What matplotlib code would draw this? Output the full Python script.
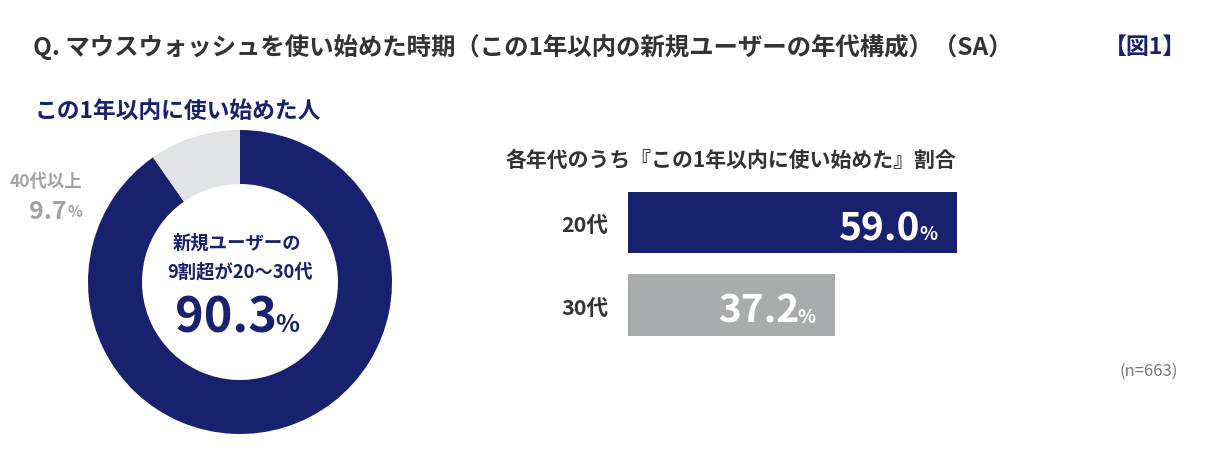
import matplotlib.pyplot as plt

plt.rcParams['font.family'] = ['Noto Sans CJK JP', 'DejaVu Sans']

W, H = 1218, 460
NAVY = '#18216d'
LIGHT = '#e2e3e6'
GRAY_BAR = '#a9abae'
DARK = '#333333'

# donut: share of new users by age group
donut_labels = ['20~30代', '40代以上']
donut_values = [90.3, 9.7]

# bars: share who started within the last year, per age group
bar_labels = ['20代', '30代']
bar_values = [59.0, 37.2]
bar_colors = [NAVY, GRAY_BAR]


def px_box(left, top, width, height):
    return [left / W, 1 - (top + height) / H, width / W, height / H]


def ftext(x, y, s, **kw):
    return fig.text(x / W, 1 - y / H, s, **kw)


fig = plt.figure(figsize=(W / 100, H / 100), dpi=100)
fig.patch.set_facecolor('white')

# titles
ftext(33, 47, 'Q. マウスウォッシュを使い始めた時期（この1年以内の新規ユーザーの年代構成）（SA）',
      fontsize=17.6, fontweight='bold', color=DARK, va='center', ha='left')
ftext(1186, 47, '【図1】', fontsize=16.5, fontweight='bold', color=NAVY, va='center', ha='right')
ftext(35, 111, 'この1年以内に使い始めた人', fontsize=16.4, fontweight='bold', color=NAVY,
      va='center', ha='left')

# donut
ax_d = fig.add_axes(px_box(88, 131, 304, 304))
ax_d.pie(donut_values, colors=[NAVY, LIGHT], startangle=90, counterclock=False,
         radius=1, wedgeprops=dict(width=1 - 98 / 152, edgecolor='none'))
ax_d.set_xlim(-1, 1)
ax_d.set_ylim(-1, 1)
ax_d.set_aspect('equal')
ax_d.axis('off')

ftext(237, 243, '新規ユーザーの', fontsize=13.2, fontweight='bold', color=NAVY, ha='center', va='center')
ftext(240, 272, '9割超が20〜30代', fontsize=13.2, fontweight='bold', color=NAVY, ha='center', va='center')
big = ftext(277, 318, f'{donut_values[0]:.1f}', fontsize=35, fontweight='bold', color=NAVY,
            ha='right', va='center')
ax_d.annotate('%', xy=(1, 0), xycoords=big, xytext=(-1, 4), textcoords='offset points',
              fontsize=18, fontweight='bold', color=NAVY, ha='left', va='bottom')

ftext(82, 182, donut_labels[1], fontsize=12.5, fontweight='bold', color='#a3a3a3', ha='right', va='center')
small = ftext(67, 212, f'{donut_values[1]:.1f}', fontsize=18, fontweight='bold', color='#a3a3a3',
              ha='right', va='center')
ax_d.annotate('%', xy=(1, 0), xycoords=small, xytext=(0.5, 3), textcoords='offset points',
              fontsize=11, fontweight='bold', color='#a3a3a3', ha='left', va='bottom')

# bars
ftext(505, 160, '各年代のうち『この1年以内に使い始めた』割合', fontsize=15, fontweight='bold',
      color=DARK, ha='left', va='center')

ax_b = fig.add_axes(px_box(628, 180, 557.5, 170))
ypos = list(range(len(bar_values)))
ax_b.barh(ypos, bar_values, height=0.74, color=bar_colors)
ax_b.set_xlim(0, 100)
ax_b.set_ylim(1.533, -0.527)
ax_b.set_yticks(ypos)
ax_b.set_yticklabels(bar_labels, fontsize=15.5, fontweight='bold', color=DARK)
ax_b.tick_params(axis='y', length=0, pad=14)
ax_b.set_xticks([])
for spine in ax_b.spines.values():
    spine.set_visible(False)

for y, v in zip(ypos, bar_values):
    pct = ax_b.annotate('%', xy=(v, y), xytext=(-14, -8), textcoords='offset points',
                        fontsize=13.5, fontweight='bold', color='white', ha='right', va='center')
    ax_b.annotate(f'{v:.1f}', xy=(0, 0), xycoords=pct, xytext=(1, -3), textcoords='offset points',
                  fontsize=28, fontweight='bold', color='white', ha='right', va='bottom')

ftext(1178, 371, '(n=663)', fontsize=12, color='#777777', ha='right', va='center')

fig.savefig('out.png', dpi=100, facecolor='white')
